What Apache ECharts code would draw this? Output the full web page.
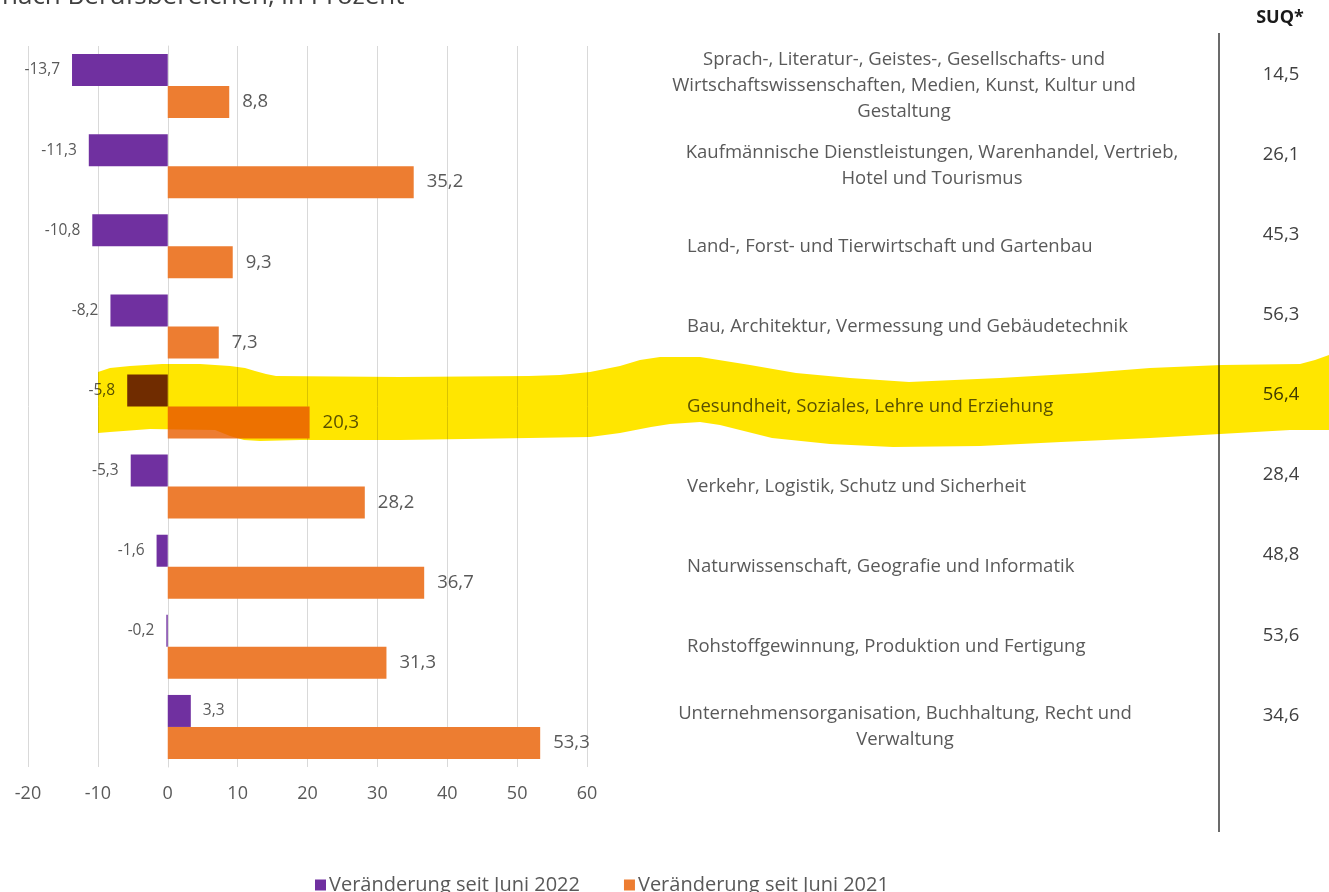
<!DOCTYPE html>
<html>
<head>
<meta charset="utf-8">
<script src="https://cdn.jsdelivr.net/npm/echarts@6/dist/echarts.min.js"></script>
<style>
  html, body { margin: 0; padding: 0; background: #fff; }
  #chart { width: 1329px; height: 892px; }
</style>
</head>
<body>
<div id="chart"></div>
<script>
// Berufsbereiche, von oben nach unten
const categories = [
  'Sprach-, Literatur-, Geistes-, Gesellschafts- und\nWirtschaftswissenschaften, Medien, Kunst, Kultur und\nGestaltung',
  'Kaufmännische Dienstleistungen, Warenhandel, Vertrieb,\nHotel und Tourismus',
  'Land-, Forst- und Tierwirtschaft und Gartenbau',
  'Bau, Architektur, Vermessung und Gebäudetechnik',
  'Gesundheit, Soziales, Lehre und Erziehung',
  'Verkehr, Logistik, Schutz und Sicherheit',
  'Naturwissenschaft, Geografie und Informatik',
  'Rohstoffgewinnung, Produktion und Fertigung',
  'Unternehmensorganisation, Buchhaltung, Recht und\nVerwaltung'
];
const seit2022 = [-13.7, -11.3, -10.8, -8.2, -5.8, -5.3, -1.6, -0.2, 3.3];
const seit2021 = [8.8, 35.2, 9.3, 7.3, 20.3, 28.2, 36.7, 31.3, 53.3];
const suq = [14.5, 26.1, 45.3, 56.3, 56.4, 28.4, 48.8, 53.6, 34.6];
const xTicks = [-20, -10, 0, 10, 20, 30, 40, 50, 60];
const seriesNames = ['Veränderung seit Juni 2022', 'Veränderung seit Juni 2021'];

const FONT = '"Open Sans", "Noto Sans", sans-serif';
const GRAY = '#595959';

// Komma als Dezimaltrenner
function fmt(v) {
  return v.toFixed(1).replace('.', ',');
}

// Breite des zentrierten Blocks fuer mehrzeilige Beschriftungen
const blockWidth = { 0: 434, 1: 490, 8: 436 };

const chart = echarts.init(document.getElementById('chart'));

const option = {
  backgroundColor: '#fff',
  animation: false,
  title: {
    text: 'nach Berufsbereichen, in Prozent',
    left: -3,
    top: -21,
    textStyle: { fontFamily: FONT, fontSize: 26, fontWeight: 'normal', color: '#404040' }
  },
  legend: {
    data: seriesNames,
    left: 310,
    top: 870,
    icon: 'rect',
    itemWidth: 11,
    itemHeight: 11,
    itemGap: 44,
    textStyle: { fontFamily: FONT, fontSize: 20, color: GRAY, padding: [0, 0, 0, -2] }
  },
  grid: {
    left: 28,
    right: 742,
    top: 46,
    bottom: 125,
    containLabel: false
  },
  xAxis: {
    type: 'value',
    min: xTicks[0],
    max: xTicks[xTicks.length - 1],
    interval: 10,
    axisLine: { show: false },
    axisTick: { show: false },
    axisLabel: { fontFamily: FONT, fontSize: 18, color: GRAY, margin: 18 },
    splitLine: { lineStyle: { color: '#d9d9d9', width: 1 } }
  },
  yAxis: [
    {
      type: 'category',
      data: categories,
      inverse: true,
      axisTick: { show: false },
      axisLabel: { show: false },
      axisLine: { lineStyle: { color: '#d9d9d9' } }
    },
    {
      type: 'category',
      data: categories,
      inverse: true,
      position: 'right',
      axisTick: { show: false },
      axisLine: { show: false, onZero: false },
      axisLabel: {
        align: 'left',
        margin: 100,
        fontFamily: FONT,
        fontSize: 18.5,
        color: GRAY,
        lineHeight: 26,
        formatter: function (value, index) {
          if (!blockWidth[index]) return value;
          return value.split('\n').map(l => '{b' + index + '|' + l + '}').join('\n');
        },
        rich: Object.fromEntries(Object.keys(blockWidth).map(k => ['b' + k, {
          width: blockWidth[k], align: 'center', fontFamily: FONT, fontSize: 18.5, color: GRAY, lineHeight: 26
        }]))
      }
    },
    {
      type: 'category',
      data: categories,
      inverse: true,
      position: 'right',
      offset: 632,
      axisTick: { show: false },
      axisLine: { show: false, onZero: false },
      axisLabel: {
        align: 'center',
        margin: 62,
        fontFamily: FONT,
        fontSize: 18.5,
        color: '#404040',
        lineHeight: 23,
        // zweite Leerzeile schiebt den Wert nach oben
        formatter: (value, index) => fmt(suq[index]) + '\n '
      }
    }
  ],
  series: [
    {
      name: seriesNames[0],
      type: 'bar',
      barWidth: 32,
      barGap: '0%',
      itemStyle: { color: '#7030A0' },
      label: {
        show: true,
        distance: 12,
        fontFamily: FONT,
        fontSize: 15.5,
        color: GRAY,
        formatter: p => fmt(p.value)
      },
      data: seit2022.map(v => ({ value: v, label: { position: v < 0 ? 'left' : 'right' } }))
    },
    {
      name: seriesNames[1],
      type: 'bar',
      barWidth: 32,
      barGap: '0%',
      itemStyle: { color: '#ED7D31' },
      label: {
        show: true,
        position: 'right',
        distance: 13,
        fontFamily: FONT,
        fontSize: 18.5,
        color: GRAY,
        formatter: p => fmt(p.value)
      },
      data: seit2021
    }
  ],
  graphic: [
    {
      // Textmarker ueber der Zeile "Gesundheit"
      type: 'polygon',
      z: 100,
      silent: true,
      shape: {
        points: [
          [98, 372], [110, 368], [130, 366], [162, 364], [200, 364], [230, 366], [245, 368],
          [255, 371], [266, 374], [276, 376], [400, 377], [529, 376], [560, 375],
          [590, 372], [620, 366], [640, 360], [660, 357], [700, 357], [750, 365],
          [796, 373], [850, 378], [909, 382], [1000, 378], [1086, 373], [1150, 368],
          [1222, 365], [1300, 364], [1315, 360], [1329, 355],
          [1329, 430], [1290, 430], [1150, 438], [1061, 442], [980, 446], [893, 447],
          [830, 444], [772, 438], [740, 430], [720, 425], [700, 422], [670, 424],
          [651, 427], [620, 433], [590, 437], [529, 438], [400, 440], [300, 440],
          [260, 441], [244, 440], [230, 436], [215, 430], [150, 429], [110, 432], [98, 433]
        ]
      },
      style: { fill: '#FFE600', blend: 'multiply' }
    },
    {
      type: 'line',
      silent: true,
      shape: { x1: 1219, y1: 33, x2: 1219, y2: 832 },
      style: { stroke: '#3a3a3a', lineWidth: 1.5 }
    },
    {
      type: 'text',
      silent: true,
      x: 1280,
      y: 18,
      style: {
        text: 'SUQ*',
        fontFamily: FONT,
        fontSize: 18,
        fontWeight: 'bold',
        fill: '#1a1a1a',
        align: 'center',
        verticalAlign: 'middle'
      }
    }
  ]
};

chart.setOption(option);
</script>
</body>
</html>
